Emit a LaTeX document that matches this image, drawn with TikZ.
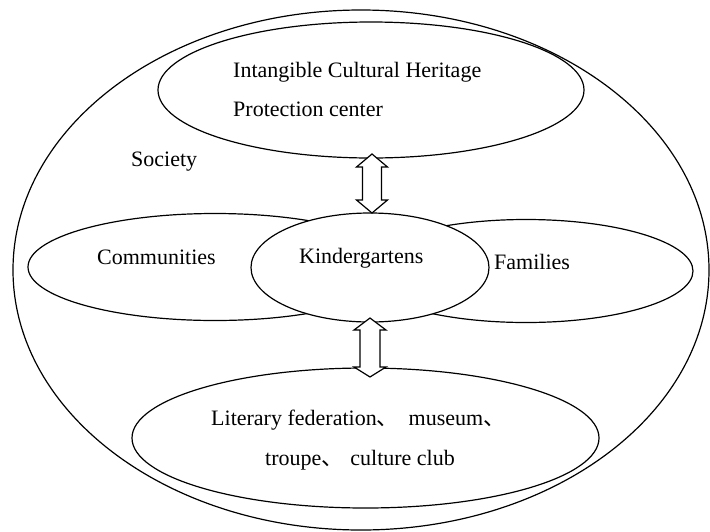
\documentclass[tikz,border=0pt]{standalone}
\usepackage{fontspec}
\setmainfont{Liberation Serif}
\newfontfamily\cjk{Noto Sans CJK SC}
\usetikzlibrary{shapes.geometric,calc}
\tikzset{
  ell/.style={ellipse, draw=black, line width=1.2pt, fill=white, inner sep=0pt, outer sep=0pt},
  lbl/.style={anchor=base west, inner sep=0pt, font=\fontsize{22}{26}\selectfont},
  arr/.style={draw=black, line width=1.2pt, fill=white, line join=miter}
}
\begin{document}
\begin{tikzpicture}[x=1pt, y=-1pt]
\useasboundingbox (0,0) rectangle (710,531);
% outer society ellipse
\node[ell, fill=none, minimum width=696pt, minimum height=520pt] (soc) at (361,270) {};
% top ellipse
\node[ell, minimum width=426pt, minimum height=136pt] (ich) at (371,90) {};
% communities and families
\node[ell, minimum width=374pt, minimum height=107pt] (com) at (215,267) {};
\node[ell, minimum width=334pt, minimum height=103pt] (fam) at (526,271) {};
% kindergartens
\node[ell, minimum width=238pt, minimum height=109pt] (kg) at (370,267.5) {};
% bottom ellipse
\node[ell, minimum width=467pt, minimum height=140pt] (lit) at (365.5,438) {};
% arrows
\coordinate (ua) at ($(ich.south)+(1,-4)$);
\coordinate (ub) at ($(kg.north)+(2,0)$);
\coordinate (la) at ($(kg.south)+(0,-4)$);
\coordinate (lb) at ($(lit.north)+(4.5,9)$);
\draw[arr] (ua) -- ($(ua)+(15.5,13)$) -- ($(ua)+(9.5,13)$) -- ($(ub)+(9.5,-13)$) -- ($(ub)+(15.5,-13)$) -- (ub)
  -- ($(ub)+(-15.5,-13)$) -- ($(ub)+(-9.5,-13)$) -- ($(ua)+(-9.5,13)$) -- ($(ua)+(-15.5,13)$) -- cycle;
\draw[arr] (la) -- ($(la)+(16,12)$) -- ($(la)+(10,12)$) -- ($(lb)+(10,-10)$) -- ($(lb)+(16,-10)$) -- (lb)
  -- ($(lb)+(-16,-10)$) -- ($(lb)+(-10,-10)$) -- ($(la)+(-10,12)$) -- ($(la)+(-16,12)$) -- cycle;
% texts
\node[lbl] (t1) at (233,77) {Intangible Cultural Heritage};
\node[lbl] (t2) at (233,116) {Protection center};
\node[lbl] (t3) at (131,166) {Society};
\node[lbl] (t4) at (97,264) {Communities};
\node[lbl] (t5) at (299,263) {Kindergartens};
\node[lbl] (t6) at (494,269) {Families};
\node[lbl] (t7) at (211,425) {Literary federation{\cjk 、}\hspace{10pt}museum{\cjk 、}};
\node[lbl] (t8) at (265,465) {troupe{\cjk 、}\hspace{7pt}culture club};
\end{tikzpicture}
\end{document}
